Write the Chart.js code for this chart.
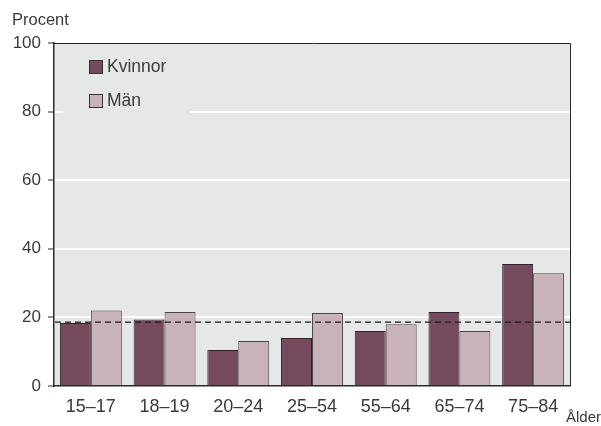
<!DOCTYPE html>
<html>
<head>
<meta charset="utf-8">
<script src="https://cdn.jsdelivr.net/npm/chart.js@4/dist/chart.umd.min.js"></script>
<style>
  html, body { margin: 0; padding: 0; background: #ffffff; }
  #wrap { width: 601px; height: 426px; position: relative; }
</style>
</head>
<body>
<div id="wrap"><canvas id="c" width="601" height="426"></canvas></div>
<script>
// Age groups and shares (percent) by sex
const ageGroups = ['15\u201317', '18\u201319', '20\u201324', '25\u201354', '55\u201364', '65\u201374', '75\u201384'];
const kvinnor = [18.4, 19.4, 10.5, 14.0, 16.0, 21.6, 35.6];
const man = [22.0, 21.6, 13.1, 21.3, 18.0, 16.0, 32.9];
const seriesNames = ['Kvinnor', 'M\u00e4n'];
// Reference level drawn as a dashed line across the plot
const totalLevel = [18.6];
const yTicks = [0, 20, 40, 60, 80, 100];

const FONT = '"Liberation Sans", Arial, sans-serif';
const TEXT = '#3a3a3a';
const PLOT_BG = '#e6e7e7';
const AXIS = '#2b2b2b';

const plotDecor = {
  id: 'plotDecor',
  beforeDraw(chart) {
    const { ctx, chartArea: a } = chart;
    ctx.save();
    ctx.fillStyle = PLOT_BG;
    ctx.fillRect(a.left, a.top, a.right - a.left, a.bottom - a.top);
    ctx.restore();
  },
  afterDatasetsDraw(chart) {
    const { ctx, chartArea: a, scales } = chart;
    ctx.save();
    // top and right frame
    ctx.strokeStyle = AXIS;
    ctx.lineWidth = 1;
    ctx.beginPath();
    ctx.moveTo(a.left, a.top + 0.5);
    ctx.lineTo(a.right + 0.5, a.top + 0.5);
    ctx.lineTo(a.right + 0.5, a.bottom);
    ctx.stroke();
    // dashed reference line
    const y = scales.y.getPixelForValue(totalLevel[0]);
    ctx.setLineDash([6, 4]);
    ctx.lineWidth = 1.3;
    ctx.strokeStyle = '#1a1a1a';
    ctx.beginPath();
    ctx.moveTo(a.left + 1, y);
    ctx.lineTo(a.right + 3, y);
    ctx.stroke();
    ctx.setLineDash([]);

    // legend inside plot
    ctx.fillStyle = PLOT_BG;
    ctx.fillRect(a.left + 9, a.top + 8, 127, 66);
    const items = chart.data.datasets;
    items.forEach((ds, i) => {
      const x = a.left + 35;
      const yy = a.top + 17 + i * 34;
      ctx.fillStyle = ds.backgroundColor;
      ctx.fillRect(x, yy, 14, 14);
      ctx.strokeStyle = '#333333';
      ctx.lineWidth = 1;
      ctx.strokeRect(x + 0.5, yy + 0.5, 13, 13);
      ctx.fillStyle = TEXT;
      ctx.font = '17.5px ' + FONT;
      ctx.textBaseline = 'middle';
      ctx.textAlign = 'left';
      ctx.fillText(ds.label, x + 18, yy + 7.5);
    });

    // axis titles
    ctx.fillStyle = TEXT;
    ctx.font = '16.5px ' + FONT;
    ctx.textAlign = 'left';
    ctx.textBaseline = 'middle';
    ctx.fillText('Procent', 12, 20);
    ctx.font = '15px ' + FONT;
    ctx.fillText('\u00c5lder', 566, 418);
    ctx.restore();
  }
};

new Chart(document.getElementById('c'), {
  type: 'bar',
  data: {
    labels: ageGroups,
    datasets: [
      { label: seriesNames[0], data: kvinnor, backgroundColor: '#744a5c', borderColor: '#2e2228', borderWidth: 1 },
      { label: seriesNames[1], data: man, backgroundColor: '#c7b3b8', borderColor: '#4a4446', borderWidth: 1 }
    ]
  },
  options: {
    responsive: false,
    animation: false,
    devicePixelRatio: 1,
    layout: { padding: { top: 43, right: 31, left: 0, bottom: 0 } },
    datasets: { bar: { barPercentage: 1.0, categoryPercentage: 0.84 } },
    plugins: { legend: { display: false }, tooltip: { enabled: false } },
    scales: {
      x: {
        afterFit(s) { s.height = 40; },
        grid: { display: false, drawTicks: false },
        border: { display: true, color: AXIS, width: 1.5 },
        ticks: { color: TEXT, font: { family: FONT, size: 18 }, padding: 10 }
      },
      y: {
        min: 0, max: 100,
        afterFit(s) { s.width = 54; },
        afterBuildTicks(s) { s.ticks = yTicks.map(v => ({ value: v })); },
        grid: {
          color: c => (c.tick && (c.tick.value === 0 || c.tick.value === 100)) ? 'rgba(0,0,0,0)' : '#ffffff',
          lineWidth: 2,
          tickColor: AXIS,
          tickLength: 6,
          tickWidth: 1
        },
        border: { display: true, color: AXIS, width: 1.5 },
        ticks: { color: TEXT, font: { family: FONT, size: 17 }, padding: 7 }
      }
    }
  },
  plugins: [plotDecor]
});
</script>
</body>
</html>
